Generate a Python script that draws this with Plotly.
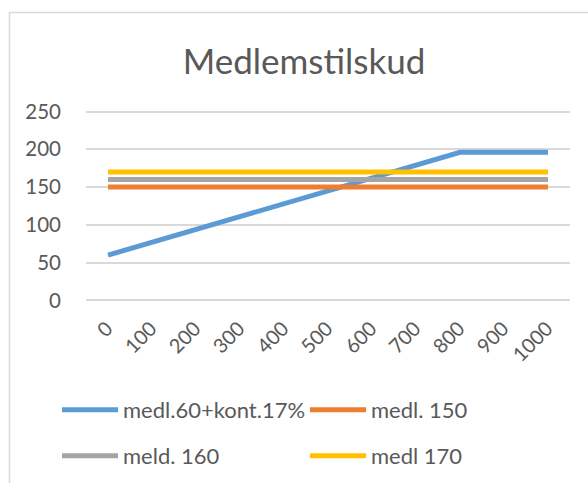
import plotly.graph_objects as go

categories = [0, 100, 200, 300, 400, 500, 600, 700, 800, 900, 1000]
cat_labels = [str(c) for c in categories]
medl_kont = [60, 77, 94, 111, 128, 145, 162, 179, 196, 196, 196]
medl_150 = [150] * 11
meld_160 = [160] * 11
medl_170 = [170] * 11

series = [
    ("medl.60+kont.17%", medl_kont, "#5B9BD5"),
    ("medl. 150", medl_150, "#ED7D31"),
    ("meld. 160", meld_160, "#A5A5A5"),
    ("medl 170", medl_170, "#FFC000"),
]
# legend positions in pixels (left of legend box, row centre)
leg_pos = [(57, 410), (305, 410), (57, 456), (305, 456)]

W, H = 588, 483

ref_left, ref_right = 86, 570
ref_y250, ref_y0 = 112, 300
pad = 2  # data units beyond 0 and 250 so edge gridlines show
upp = (ref_y0 - ref_y250) / 250.0
L = ref_left
R = W - ref_right
T = ref_y250 - pad * upp
B = H - (ref_y0 + pad * upp)
pw, ph = W - L - R, H - T - B

def px2x(p):
    return (p - L) / pw

def py2y(p):
    return (H - B - p) / ph

fig = go.Figure()
legends = {}
for i, (name, vals, col) in enumerate(series):
    key = "legend" if i == 0 else f"legend{i+1}"
    fig.add_trace(go.Scatter(x=cat_labels, y=vals, name=name, mode="lines",
                             line=dict(color=col, width=5), legend=key))
    lx, ly = leg_pos[i]
    legends[key] = dict(orientation="h", xref="container", yref="container",
                        x=lx / W, y=1 - ly / H, xanchor="left", yanchor="middle",
                        itemwidth=56, borderwidth=0,
                        font=dict(size=22, color="#595959"), bgcolor="rgba(0,0,0,0)")

# chart frame: only left and top edges are visible in the picture
fx0, fx1 = px2x(9.5), px2x(600)
fy0, fy1 = py2y(490), py2y(13.5)
frame_path = f"M {fx0},{fy0} L {fx0},{fy1} L {fx1},{fy1}"

fig.update_layout(
    width=W, height=H,
    margin=dict(l=L, r=R, t=T, b=B, autoexpand=False),
    paper_bgcolor="white", plot_bgcolor="white",
    font=dict(family="Lato, 'Open Sans', sans-serif", color="#595959", size=20),
    title=dict(text="Medlemstilskud", x=304 / W, xanchor="center",
               y=1 - 62 / H, yanchor="middle",
               font=dict(size=35, color="#595959")),
    xaxis=dict(type="category", range=[-0.5, 10.5], tickangle=-45, showgrid=False,
               showline=False, ticks="", zeroline=False, automargin=False,
               ticklabelshift=-1, ticklabelstandoff=10,
               tickfont=dict(size=20, color="#595959")),
    yaxis=dict(range=[-pad, 250 + pad], tickvals=[0, 50, 100, 150, 200, 250], showgrid=True,
               gridcolor="#D9D9D9", gridwidth=1.5, zeroline=False, showline=False, ticks="",
               automargin=False, tickfont=dict(size=20.5, color="#595959"),
               ticklabelstandoff=24),
    showlegend=True,
    shapes=[dict(type="path", xref="paper", yref="paper", path=frame_path,
                 line=dict(color="#D9D9D9", width=1.5), layer="below")],
    **legends,
)

fig.write_html("out.html", config={"displayModeBar": False},
               post_script=("document.documentElement.style.overflow='hidden';"
                            "document.body.style.margin='0';"
                            "document.body.style.overflow='hidden';"))
